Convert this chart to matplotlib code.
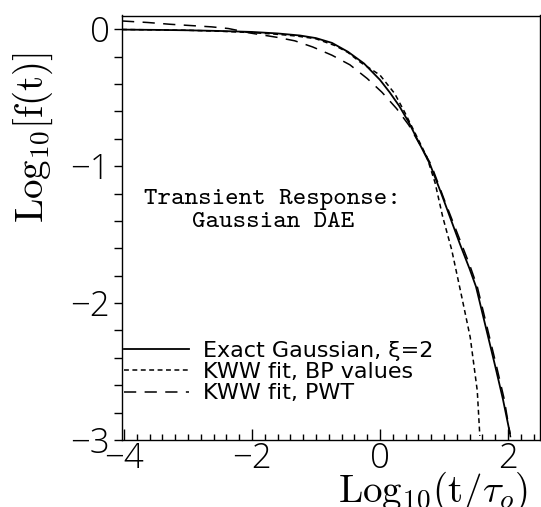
import numpy as np
import matplotlib
matplotlib.use("Agg")
import matplotlib.pyplot as plt
from matplotlib.ticker import MultipleLocator

plt.rcParams['mathtext.fontset'] = 'cm'

# values
exact_x = [-4.03, -3.5, -3.0, -2.5, -2.0, -1.6, -1.25, -1.0, -0.75, -0.5, -0.25, 0.0,
           0.15, 0.3, 0.45, 0.6, 0.78, 0.95, 1.1, 1.25, 1.4, 1.5, 1.65, 1.8, 1.92, 2.03]
exact_y = [-0.003, -0.005, -0.008, -0.013, -0.02, -0.031, -0.046, -0.065, -0.10, -0.165, -0.25, -0.37,
           -0.46, -0.56, -0.68, -0.82, -0.985, -1.19, -1.38, -1.57, -1.75, -1.88, -2.17, -2.46, -2.70, -2.95]

bp_x = [-4.03, -3.0, -2.5, -2.0, -1.64, -1.3, -1.0, -0.7, -0.5, -0.31, 0.0, 0.23, 0.39, 0.55,
        0.73, 0.86, 0.98, 1.12, 1.28, 1.41, 1.52, 1.56]
bp_y = [-0.002, -0.008, -0.015, -0.025, -0.036, -0.05, -0.07, -0.12, -0.17, -0.24, -0.335, -0.47, -0.61, -0.76,
        -0.93, -1.12, -1.37, -1.61, -1.96, -2.25, -2.64, -2.97]

pwt_x = [-4.03, -3.63, -3.28, -2.97, -2.63, -2.37, -2.0, -1.6, -1.33, -1.05, -0.75, -0.47, -0.2,
         0.03, 0.26, 0.45, 0.62, 0.8, 1.0, 1.2, 1.4, 1.52, 1.67, 1.82, 1.94, 2.04]
pwt_y = [0.06, 0.049, 0.036, 0.027, 0.017, 0.005, -0.03, -0.06, -0.085, -0.13, -0.19, -0.26, -0.36,
         -0.46, -0.58, -0.70, -0.84, -0.99, -1.24, -1.48, -1.72, -1.88, -2.17, -2.46, -2.70, -2.98]

labels = ['Exact Gaussian, ξ=2', 'KWW fit, BP values', 'KWW fit, PWT']

fig = plt.figure(figsize=(5.41, 5.07), dpi=100)
ax = fig.add_axes([122/541, 1-440/507, 418/541, 424.5/507])

ax.plot(exact_x, exact_y, color='black', lw=1.3, label=labels[0])
ax.plot(bp_x, bp_y, color='black', lw=1.1, dashes=(3.2, 2.3), label=labels[1])
ax.plot(pwt_x, pwt_y, color='black', lw=1.1, dashes=(8, 5.5), label=labels[2])

ax.set_xlim(-4.03, 2.5)
ax.set_ylim(-3, 0.1)
ax.xaxis.set_major_locator(MultipleLocator(2))
ax.xaxis.set_minor_locator(MultipleLocator(0.2))
ax.yaxis.set_major_locator(MultipleLocator(1))
ax.yaxis.set_minor_locator(MultipleLocator(0.2))
ax.tick_params(axis='x', which='major', direction='in', length=8, width=1, pad=1)
ax.tick_params(axis='x', which='minor', direction='in', length=4, width=1)
ax.tick_params(axis='y', which='both', direction='out', length=6, width=1, pad=3)
for lab in ax.get_xticklabels() + ax.get_yticklabels():
    lab.set_fontfamily(['Open Sans', 'DejaVu Sans'])
    lab.set_fontweight('light')
    lab.set_fontsize(25)
for s in ax.spines.values():
    s.set_linewidth(1.0)

ax.text(0.361, 0.54, 'Transient Response:\nGaussian DAE', transform=ax.transAxes,
        ha='center', va='center', multialignment='center', fontsize=18.5,
        family=['cmtt10', 'DejaVu Sans Mono'], linespacing=1.1)

leg = ax.legend(loc='upper left', bbox_to_anchor=(0.005, 0.233), borderaxespad=0, borderpad=0,
                handlelength=2.9, handletextpad=0.65, labelspacing=0.05, frameon=False,
                prop={'family': 'DejaVu Sans', 'size': 16})

fig.text(33/541, 1-138/507, r'$\mathrm{Log}_{10}[\mathrm{f(t)}]$', rotation=90,
         ha='center', va='center', fontsize=28)
fig.text(528/541, 5/507, r'$\mathrm{Log}_{10}(\mathrm{t}/\tau_o)$',
         ha='right', va='baseline', fontsize=28)

fig.savefig('out.png', dpi=100)
